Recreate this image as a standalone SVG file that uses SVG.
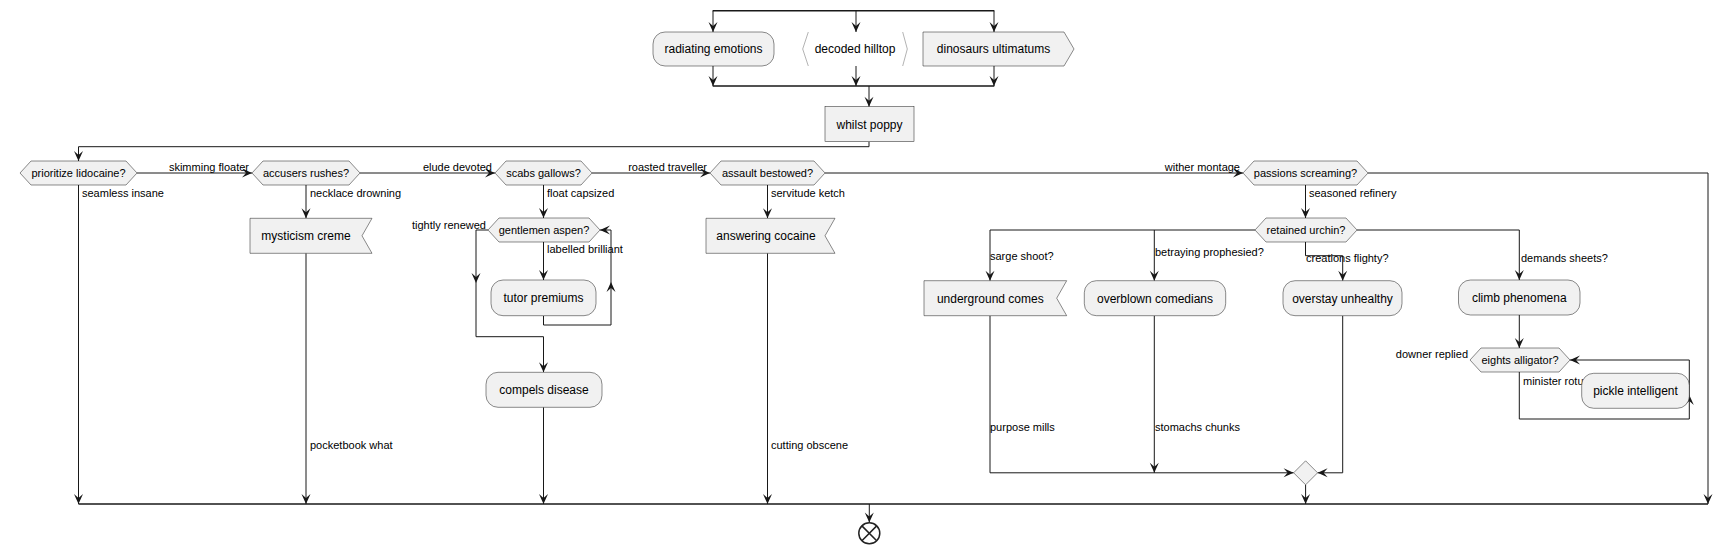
<svg xmlns="http://www.w3.org/2000/svg" xmlns:xlink="http://www.w3.org/1999/xlink" width="1732" height="554" viewBox="0 0 1732 554">
<style>
.n{fill:#F1F1F1;stroke:#181818;stroke-width:0.5}
.t{font-family:"Liberation Sans",Arial,sans-serif;font-size:12px;fill:#000;text-anchor:middle}
.d{font-family:"Liberation Sans",Arial,sans-serif;font-size:11px;fill:#000;text-anchor:middle}
.l{font-family:"Liberation Sans",Arial,sans-serif;font-size:11px;fill:#000}
.e{text-anchor:end}
.c{fill:none;stroke:#181818;stroke-width:1}
.b{fill:none;stroke:#181818;stroke-width:1.6}
</style>
<defs>
<path id="ah" d="M0,0 L-4.5,-10 L0,-6 L4.5,-10 Z" fill="#181818"/>
</defs>
<rect width="1732" height="554" fill="#FFFFFF"/>
<g id="connectors">
<path class="b" d="M712.7,10.7 H994.3 M712.7,86 H994.3"/>
<path class="c" d="M713,10.7 V32 M856,10.7 V32 M994,10.7 V32 M713,66 V86 M856,66 V86 M994,66 V86 M869,86 V106.7 M869,141.7 V146.7 H78.5 V161"/>
<use href="#ah" transform="translate(713,32)"/><use href="#ah" transform="translate(856,32)"/><use href="#ah" transform="translate(994,32)"/>
<use href="#ah" transform="translate(713,86)"/><use href="#ah" transform="translate(856,86)"/><use href="#ah" transform="translate(994,86)"/>
<use href="#ah" transform="translate(869,106.7)"/><use href="#ah" transform="translate(78.5,161)"/>
<path class="c" d="M137,173 H252 M360,173 H495 M592,173 H710 M825,173 H1243 M1368,173 H1708 V504"/>
<use href="#ah" transform="translate(252,173) rotate(-90)"/><use href="#ah" transform="translate(495,173) rotate(-90)"/><use href="#ah" transform="translate(710,173) rotate(-90)"/><use href="#ah" transform="translate(1243,173) rotate(-90)"/><use href="#ah" transform="translate(1708,504)"/>
<text class="l e" x="249" y="170.5">skimming floater</text>
<text class="l e" x="492" y="170.5">elude devoted</text>
<text class="l e" x="707" y="170.5">roasted traveller</text>
<text class="l e" x="1240" y="170.5">wither montage</text>
<path class="c" d="M78.5,185 V504 M306,185 V218.3 M306,253.3 V504 M543.5,185 V218 M543.5,242 V280 M543.5,316 V325 H611 V230 H600 M488,230 H476 V336.7 H543.5 V372.3 M543.5,407.3 V504 M767.5,185 V218.3 M767.5,253.3 V504"/>
<use href="#ah" transform="translate(78.5,504)"/><use href="#ah" transform="translate(306,218.3)"/><use href="#ah" transform="translate(306,504)"/><use href="#ah" transform="translate(543.5,218)"/><use href="#ah" transform="translate(543.5,280)"/><use href="#ah" transform="translate(600,230) rotate(90)"/><use href="#ah" transform="translate(611,282) rotate(180)"/><use href="#ah" transform="translate(476,283)"/><use href="#ah" transform="translate(543.5,372.3)"/><use href="#ah" transform="translate(543.5,504)"/><use href="#ah" transform="translate(767.5,218.3)"/><use href="#ah" transform="translate(767.5,504)"/>
<text class="l" x="82" y="197.3">seamless insane</text>
<text class="l" x="310" y="197.3">necklace drowning</text>
<text class="l" x="310" y="449">pocketbook what</text>
<text class="l" x="547" y="197.3">float capsized</text>
<text class="l" x="547" y="253">labelled brilliant</text>
<text class="l e" x="486" y="228.5">tightly renewed</text>
<text class="l" x="771" y="197.3">servitude ketch</text>
<text class="l" x="771" y="449">cutting obscene</text>
<path class="c" d="M1305.5,185 V218 M1255,230 H990 V280.7 M1154.3,230 V280.7 M1305.5,242 V255.7 H1342.7 V280.7 M1357,230 H1519.3 V280 M1519.3,315 V348 M1519.3,372 V419 H1689.3 V360 H1570 M990,315.7 V472.8 H1293.6 M1154.3,315.7 V472.8 M1342.7,315.7 V472.8 H1317.6 M1305.6,484.8 V504"/>
<use href="#ah" transform="translate(1305.5,218)"/><use href="#ah" transform="translate(990,280.7)"/><use href="#ah" transform="translate(1154.3,280.7)"/><use href="#ah" transform="translate(1342.7,280.7)"/><use href="#ah" transform="translate(1519.3,280)"/><use href="#ah" transform="translate(1519.3,348)"/><use href="#ah" transform="translate(1570,360) rotate(90)"/><use href="#ah" transform="translate(1689.3,395) rotate(180)"/><use href="#ah" transform="translate(1293.6,472.8) rotate(-90)"/><use href="#ah" transform="translate(1154.3,472.8)"/><use href="#ah" transform="translate(1317.6,472.8) rotate(90)"/><use href="#ah" transform="translate(1305.6,504)"/>
<text class="l" x="1309" y="197.3">seasoned refinery</text>
<text class="l" x="990" y="260">sarge shoot?</text>
<text class="l" x="1155" y="255.7">betraying prophesied?</text>
<text class="l" x="1306" y="261.5">creations flighty?</text>
<text class="l" x="1521" y="262">demands sheets?</text>
<text class="l e" x="1468" y="358">downer replied</text>
<text class="l" x="1523" y="385">minister rotu</text>
<text class="l" x="990" y="431">purpose mills</text>
<text class="l" x="1155" y="431">stomachs chunks</text>
<path class="b" d="M78.5,504 H1708"/>
<path class="c" d="M869.3,504 V522.6"/>
<use href="#ah" transform="translate(869.3,522.6)"/>
</g>
<g id="radiating-emotions"><rect class="n" x="653" y="32" width="121" height="34" rx="12" ry="12"/><text class="t" x="713.5" y="53.3">radiating emotions</text></g>
<g id="decoded-hilltop"><path d="M808.3,32 L802.7,49 L808.3,66 M902.7,32 L907.3,49 L902.7,66" fill="none" stroke="#A0A0A0" stroke-width="0.8"/><text class="t" x="855" y="53.3">decoded hilltop</text></g>
<g id="dinosaurs-ultimatums"><path class="n" d="M923,32 H1064 L1074,49 L1064,66 H923 Z"/><text class="t" x="993.5" y="53.3">dinosaurs ultimatums</text></g>
<g id="whilst-poppy"><rect class="n" x="825" y="106.7" width="89" height="35"/><text class="t" x="869.5" y="128.5">whilst poppy</text></g>
<g id="prioritize-lidocaine"><path class="n" d="M20,173 L31,161 H126 L137,173 L126,185 H31 Z"/><text class="d" x="78.5" y="177">prioritize lidocaine?</text></g>
<g id="accusers-rushes"><path class="n" d="M252,173 L263,161 H349 L360,173 L349,185 H263 Z"/><text class="d" x="306" y="177">accusers rushes?</text></g>
<g id="scabs-gallows"><path class="n" d="M495,173 L506,161 H581 L592,173 L581,185 H506 Z"/><text class="d" x="543.5" y="177">scabs gallows?</text></g>
<g id="assault-bestowed"><path class="n" d="M710,173 L721,161 H814 L825,173 L814,185 H721 Z"/><text class="d" x="767.5" y="177">assault bestowed?</text></g>
<g id="passions-screaming"><path class="n" d="M1243,173 L1254,161 H1357 L1368,173 L1357,185 H1254 Z"/><text class="d" x="1305.5" y="177">passions screaming?</text></g>
<g id="mysticism-creme"><path class="n" d="M250,218.3 H372 L362,235.8 L372,253.3 H250 Z"/><text class="t" x="306" y="240">mysticism creme</text></g>
<g id="gentlemen-aspen"><path class="n" d="M488,230 L499,218 H589 L600,230 L589,242 H499 Z"/><text class="d" x="544" y="234">gentlemen aspen?</text></g>
<g id="tutor-premiums"><rect class="n" x="491" y="280" width="105" height="35.7" rx="12" ry="12"/><text class="t" x="543.5" y="302">tutor premiums</text></g>
<g id="compels-disease"><rect class="n" x="486" y="372.3" width="116" height="35" rx="12" ry="12"/><text class="t" x="544" y="394">compels disease</text></g>
<g id="answering-cocaine"><path class="n" d="M706,218.3 H835 L825,235.8 L835,253.3 H706 Z"/><text class="t" x="766" y="240">answering cocaine</text></g>
<g id="retained-urchin"><path class="n" d="M1255,230 L1266,218 H1346 L1357,230 L1346,242 H1266 Z"/><text class="d" x="1306" y="234">retained urchin?</text></g>
<g id="underground-comes"><path class="n" d="M924,280.7 H1066.7 L1056.7,298.2 L1066.7,315.7 H924 Z"/><text class="t" x="990.3" y="302.5">underground comes</text></g>
<g id="overblown-comedians"><rect class="n" x="1084.3" y="280.7" width="141.4" height="35" rx="12" ry="12"/><text class="t" x="1155" y="302.5">overblown comedians</text></g>
<g id="overstay-unhealthy"><rect class="n" x="1283" y="280.7" width="119" height="35" rx="12" ry="12"/><text class="t" x="1342.5" y="302.5">overstay unhealthy</text></g>
<g id="climb-phenomena"><rect class="n" x="1458.5" y="280" width="121.5" height="35" rx="12" ry="12"/><text class="t" x="1519.3" y="302">climb phenomena</text></g>
<g id="eights-alligator"><path class="n" d="M1470,360 L1481,348 H1559 L1570,360 L1559,372 H1481 Z"/><text class="d" x="1520" y="364">eights alligator?</text></g>
<g id="pickle-intelligent"><rect class="n" x="1581.7" y="373.3" width="107.6" height="35" rx="12" ry="12"/><text class="t" x="1635.5" y="395">pickle intelligent</text></g>
<g id="merge"><path class="n" d="M1305.6,460.8 L1317.6,472.8 L1305.6,484.8 L1293.6,472.8 Z"/></g>
<g id="end"><circle cx="869.3" cy="533.3" r="10.5" fill="#FFFFFF" stroke="#222222" stroke-width="1.5"/><path d="M861.9,525.9 L876.7,540.7 M876.7,525.9 L861.9,540.7" stroke="#222222" stroke-width="1.5"/></g>
</svg>
